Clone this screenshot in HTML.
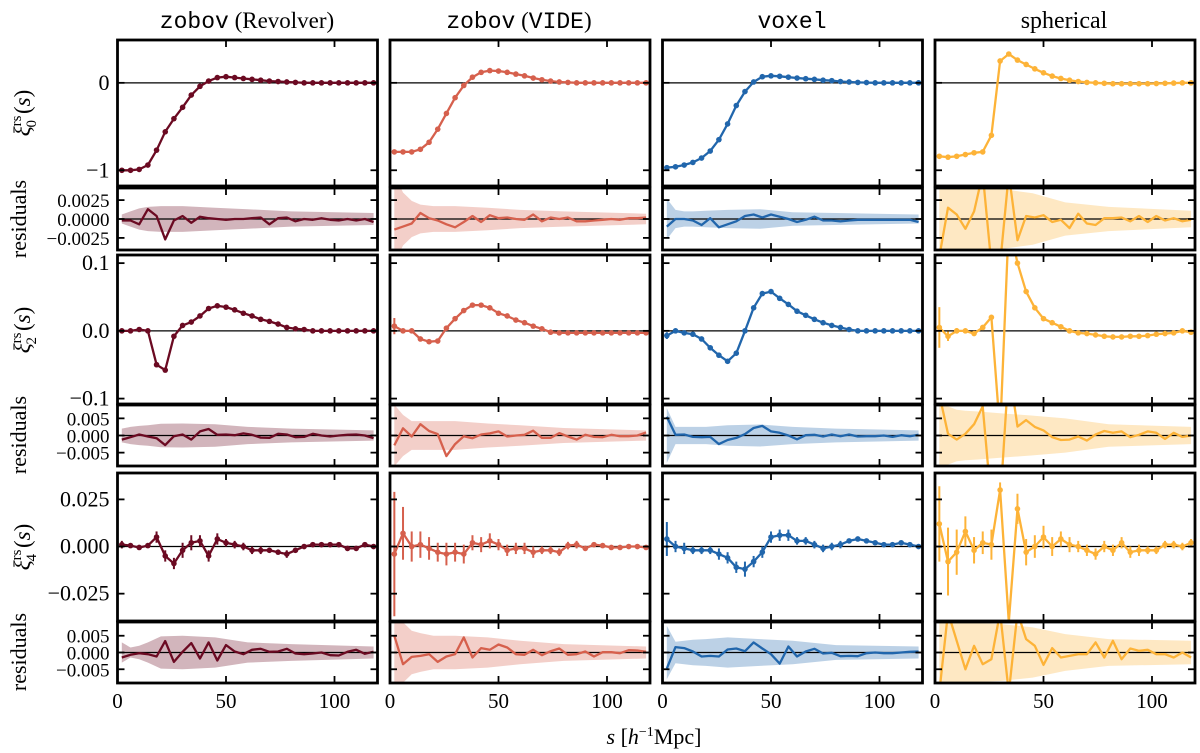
<!DOCTYPE html>
<html><head><meta charset="utf-8">
<style>
html,body{margin:0;padding:0;background:#fff;}
svg{display:block;}
text{font-family:"Liberation Serif",serif;fill:#000;}
.mono{font-family:"Liberation Mono",monospace;}
</style></head>
<body>
<svg id="fig" width="1200" height="753" viewBox="0 0 1200 753" xmlns="http://www.w3.org/2000/svg">
<g>
<text x="247" y="28" font-size="23" text-anchor="middle"><tspan class="mono">zobov</tspan> (Revolver)</text>
<text x="519" y="28" font-size="23" text-anchor="middle"><tspan class="mono">zobov</tspan> (<tspan class="mono">VIDE</tspan>)</text>
<text x="792" y="28" font-size="23" text-anchor="middle" class="mono">voxel</text>
<text x="1064" y="28" font-size="24" text-anchor="middle">spherical</text>
</g>
<g>
<text transform="translate(30,113) rotate(-90)" font-size="23" text-anchor="middle"><tspan font-style="italic">ξ</tspan><tspan font-size="15" dy="-9">rs</tspan><tspan font-size="15" dx="-12" dy="15">0</tspan><tspan dy="-6" dx="6">(</tspan><tspan font-style="italic">s</tspan>)</text>
<text transform="translate(26,219) rotate(-90)" font-size="22" text-anchor="middle">residuals</text>
<text transform="translate(30,330) rotate(-90)" font-size="23" text-anchor="middle"><tspan font-style="italic">ξ</tspan><tspan font-size="15" dy="-9">rs</tspan><tspan font-size="15" dx="-12" dy="15">2</tspan><tspan dy="-6" dx="6">(</tspan><tspan font-style="italic">s</tspan>)</text>
<text transform="translate(26,435) rotate(-90)" font-size="22" text-anchor="middle">residuals</text>
<text transform="translate(30,547) rotate(-90)" font-size="23" text-anchor="middle"><tspan font-style="italic">ξ</tspan><tspan font-size="15" dy="-9">rs</tspan><tspan font-size="15" dx="-12" dy="15">4</tspan><tspan dy="-6" dx="6">(</tspan><tspan font-style="italic">s</tspan>)</text>
<text transform="translate(26,652) rotate(-90)" font-size="22" text-anchor="middle">residuals</text>
</g>
<text x="654" y="744" font-size="22" text-anchor="middle"><tspan font-style="italic">s</tspan> [<tspan font-style="italic">h</tspan><tspan font-size="14" dy="-8">−1</tspan><tspan dy="8">Mpc]</tspan></text>
<g id="plots"></g>
</svg>
<script>
const S = [2,6,10,14,18,22,26,30,34,38,42,46,50,54,58,62,66,70,74,78,82,86,90,94,98,102,106,110,114,118];
const bandS = [2,6,10,14,20,30,45,60,80,118];
const colNames = ['revolver','vide','voxel','spherical'];
const colors = ['#6b0a22','#d6604d','#2166ac','#fdb338'];
const xTicks = [0,50,100];

// monopole
const xi0_revolver = [-1.0,-1.0,-0.99,-0.94,-0.77,-0.56,-0.41,-0.28,-0.14,-0.04,0.02,0.06,0.07,0.06,0.05,0.04,0.03,0.02,0.015,0.01,0.005,0,0,0,0,0,0,0,0,0];
const xi0_vide = [-0.79,-0.79,-0.79,-0.76,-0.68,-0.53,-0.35,-0.17,-0.03,0.065,0.12,0.14,0.135,0.12,0.1,0.08,0.055,0.035,0.02,0.01,0.005,0,0,0,0,0,0,0,0,0];
const xi0_voxel = [-0.97,-0.96,-0.94,-0.91,-0.86,-0.78,-0.65,-0.47,-0.26,-0.1,0.01,0.07,0.08,0.075,0.065,0.055,0.047,0.04,0.03,0.025,0.015,0.01,0.005,0.003,0,0,0,0,0,0];
const xi0_spherical = [-0.84,-0.85,-0.84,-0.82,-0.80,-0.79,-0.60,0.25,0.33,0.26,0.21,0.16,0.115,0.077,0.05,0.03,0.015,0.005,0,-0.005,-0.01,-0.01,-0.01,-0.01,-0.01,-0.008,-0.005,-0.003,0,0];
// quadrupole
const xi2_revolver = [0,0,0.002,0,-0.05,-0.058,-0.008,0.008,0.013,0.022,0.033,0.037,0.035,0.031,0.026,0.022,0.017,0.014,0.01,0.005,0.003,0.002,0,0,0,0,0,0,0,0];
const xi2_vide = [0.007,0,0,-0.012,-0.016,-0.015,0.004,0.018,0.03,0.038,0.038,0.034,0.026,0.022,0.016,0.012,0.007,0.003,-0.002,-0.003,-0.003,-0.003,-0.003,-0.003,-0.003,-0.003,-0.003,-0.003,-0.003,-0.003];
const xi2_voxel = [-0.007,0,-0.003,-0.005,-0.012,-0.025,-0.036,-0.045,-0.033,0,0.034,0.055,0.058,0.048,0.039,0.029,0.023,0.017,0.012,0.008,0.005,0.002,0,0,0,0,0,0,0,0];
const xi2_spherical = [0.005,-0.008,0,0,-0.004,0.005,0.02,-0.15,0.16,0.1,0.058,0.034,0.018,0.012,0.006,0,-0.003,-0.004,-0.006,-0.008,-0.009,-0.009,-0.008,-0.008,-0.007,-0.005,-0.004,-0.003,0,-0.002];
const xi2err_vide = [0.012,0.003,0,0,0,0,0,0,0,0,0,0,0,0,0,0,0,0,0,0,0,0,0,0,0,0,0,0,0,0];
const xi2err_voxel = [0.005,0,0,0,0,0,0,0,0,0,0,0,0,0,0,0,0,0,0,0,0,0,0,0,0,0,0,0,0,0];
const xi2err_spherical = [0.03,0.007,0.004,0.003,0.002,0.002,0,0,0,0,0,0,0,0,0,0,0,0,0,0,0,0,0,0,0,0,0,0,0,0];
const xi2err_revolver = [0,0,0,0,0,0,0,0,0,0,0,0,0,0,0,0,0,0,0,0,0,0,0,0,0,0,0,0,0,0];
// hexadecapole
const xi4_revolver = [0.001,0.0005,-0.0005,0.0005,0.005,-0.005,-0.009,-0.002,0.002,0.003,-0.005,0.004,0.002,0.001,0,-0.002,-0.002,-0.002,-0.003,-0.004,-0.002,0,0.001,0.001,0.001,0.001,-0.001,-0.001,0.001,0];
const xi4err_revolver = [0.002,0.001,0.001,0.001,0.003,0.003,0.003,0.004,0.004,0.003,0.003,0.003,0.002,0.002,0.002,0.002,0.002,0.001,0.001,0.002,0.001,0.001,0.001,0.001,0.001,0.001,0.001,0.001,0.001,0.001];
const xi4_vide = [-0.004,0.007,0,0.001,-0.001,-0.003,-0.004,-0.003,-0.004,0.002,0.001,0.003,0.001,-0.002,-0.001,-0.001,-0.003,-0.002,-0.002,-0.003,0.0005,0.001,-0.001,0.001,0.0005,-0.0005,-0.0005,0,0,-0.0005];
const xi4err_vide = [0.033,0.014,0.008,0.007,0.006,0.005,0.006,0.005,0.005,0.004,0.004,0.004,0.003,0.003,0.003,0.003,0.003,0.002,0.002,0.002,0.002,0.002,0.001,0.001,0.001,0.001,0.001,0.001,0.001,0.001];
const xi4_voxel = [0.004,0,-0.001,-0.002,-0.002,-0.002,-0.004,-0.006,-0.011,-0.012,-0.008,-0.003,0.005,0.006,0.006,0.003,0.003,0.001,-0.001,0,0.001,0.003,0.004,0.003,0.002,0.001,0.001,0.002,0.001,0];
const xi4err_voxel = [0.009,0.003,0.003,0.002,0.002,0.002,0.003,0.003,0.003,0.004,0.003,0.003,0.003,0.003,0.003,0.002,0.002,0.002,0.002,0.002,0.002,0.001,0.001,0.001,0.001,0.001,0.001,0.001,0.001,0.001];
const xi4_spherical = [0.012,-0.008,-0.003,0.008,-0.002,0.002,0.001,0.03,-0.04,0.02,-0.003,0,0.005,0,0.004,0.001,0,-0.002,-0.004,0,-0.002,0.002,-0.003,-0.002,-0.002,-0.002,0.001,0.001,0,0.002];
const xi4err_spherical = [0.02,0.018,0.012,0.008,0.007,0.006,0.008,0.004,0.004,0.008,0.007,0.006,0.006,0.005,0.004,0.004,0.003,0.003,0.003,0.003,0.003,0.003,0.003,0.003,0.002,0.002,0.002,0.002,0.002,0.002];
// residuals
const res0_revolver = [-0.0002,-0.0002,-0.0007,0.0013,0.0004,-0.0027,-0.0002,0.0004,-0.0005,0.0003,0.0001,0,-0.0001,0,0,0.0001,0.0002,-0.0007,0.0001,0.0002,-0.0003,0,-0.0001,0.0001,-0.0001,-0.0002,0,-0.0002,0,-0.0004];
const res0_vide = [-0.0014,-0.001,-0.0006,0.0008,0.0001,-0.0002,-0.0007,-0.0011,-0.0004,0.0004,-0.0004,0.0005,0.0001,0.0002,0,-0.0001,0.0006,-0.0003,0.0002,0,0.0002,-0.0003,-0.0003,-0.0002,-0.0001,0,-0.0001,0.0001,0.0001,0.0002];
const res0_voxel = [-0.001,0,0,-0.0002,-0.0008,0.0001,-0.0011,-0.0007,-0.0003,0.0004,0.0006,0.0002,0.0006,0.0003,0,-0.0004,-0.0001,0.0003,-0.0002,-0.0002,-0.0003,-0.0002,-0.0001,-0.0001,-0.0001,-0.0001,-0.0001,-0.0001,-0.0001,-0.0004];
const res0_spherical = [-0.005,0.0015,0.0006,-0.0013,0.001,0.006,-0.006,-0.006,0.006,-0.0028,0.0004,0.0002,0.0005,-0.0004,-0.0001,-0.0012,0.0007,-0.0006,-0.0008,0.0001,0.0001,0.0002,-0.0003,0.0004,-0.0004,0.0004,-0.0002,0.0001,-0.0003,-0.0001];
const res2_revolver = [-0.0012,-0.0005,0.0003,-0.0003,-0.0008,-0.0028,-0.0002,0.0003,-0.0012,0.0012,0.0019,0.0002,0.0003,0.0001,0.0006,0.0002,-0.0006,-0.0007,0.0005,0.0003,-0.0005,-0.0004,0.0005,0,-0.0003,0,0.0002,0.0003,0,-0.0008];
const res2_vide = [-0.0029,0.0021,-0.0003,0.0033,0.0013,0.0004,-0.006,-0.0025,-0.0002,-0.0008,0.0003,0.0006,0.0012,-0.0003,0,0.0002,0.0014,-0.0007,-0.0007,0.0007,-0.0003,-0.0012,0.0002,-0.0004,-0.0005,0.0002,-0.0002,-0.0002,0,0.0009];
const res2_voxel = [0.0055,0.0002,0.0003,-0.0004,-0.0005,-0.0004,-0.0025,-0.0013,-0.0007,0.0004,0.0022,0.0028,0.0012,0.0008,0,-0.0011,0.0001,0.0002,-0.0003,0.0003,-0.0002,0.0003,-0.0003,-0.0002,-0.0002,0,-0.0004,0.0001,-0.0002,0.0002];
const res2_spherical = [0.012,0.0005,-0.0012,0.0005,0.0033,0.0085,-0.02,-0.02,0.02,0.0026,0.0045,0.0025,0.0015,-0.0005,-0.0013,-0.0012,-0.0003,-0.0015,0.0003,0.0013,0.0008,0.0012,-0.0005,0.0002,0.0012,0.0008,-0.001,0.0008,-0.0004,0];
const res4_revolver = [-0.0015,-0.0007,-0.0002,-0.0005,-0.0012,0.0034,-0.0028,0.0002,0.0028,-0.0018,0.003,-0.0024,0.0022,0.0003,-0.0005,0.0008,0.0011,0.0002,0.0003,0.0011,-0.0003,-0.0005,-0.0003,0,-0.0008,-0.0009,0.0002,0.0008,-0.0004,0.0002];
const res4_vide = [0.005,-0.0035,-0.0013,-0.001,-0.0005,-0.0028,-0.0012,-0.0005,0.0045,-0.0015,0.0013,0.0008,0.0024,0.0015,-0.0005,-0.0007,0.0008,-0.0008,0.0004,0.0012,-0.0007,-0.0005,0.0003,-0.0012,0.0001,0.0001,-0.0002,0.0007,0.0006,0.0002];
const res4_voxel = [-0.0048,0.0016,0.0013,0.0003,-0.0012,-0.001,-0.0012,0.0009,0.0012,0.0004,0.003,0.0012,-0.0005,-0.0033,0.0018,-0.0012,0.0003,0.0011,-0.0003,-0.0001,-0.0011,-0.001,-0.0011,-0.0002,0,-0.0002,-0.0002,0,0.0002,0.0003];
const res4_spherical = [-0.012,0.012,0.0035,-0.005,0.002,-0.0035,-0.002,0.012,-0.012,0.012,0.004,0.002,-0.0037,0.0013,-0.0015,-0.001,-0.0005,-0.0005,0.003,-0.0015,0.0035,-0.002,0.0012,0.0005,0.0008,-0.0005,-0.0005,-0.0015,0,-0.0015];
// residual bands (half-width) at bandS
const band0_revolver = [0.0006,0.001,0.0014,0.0016,0.0017,0.0017,0.0015,0.0013,0.001,0.0008];
const band0_vide = [0.006,0.0035,0.0024,0.0019,0.0017,0.0017,0.0015,0.0012,0.001,0.0007];
const band0_voxel = [0.0027,0.0012,0.001,0.001,0.0011,0.0012,0.0013,0.0009,0.0008,0.0006];
const band0_spherical = [0.005,0.0048,0.0045,0.0043,0.0042,0.004,0.0034,0.0022,0.0016,0.0011];
const band2_revolver = [0.002,0.0025,0.0028,0.003,0.0034,0.0035,0.0033,0.0025,0.002,0.0015];
const band2_vide = [0.009,0.006,0.0042,0.0042,0.0042,0.0042,0.0035,0.003,0.0022,0.0015];
const band2_voxel = [0.008,0.0025,0.0025,0.0025,0.0025,0.003,0.0032,0.0025,0.002,0.0015];
const band2_spherical = [0.009,0.0085,0.0075,0.0072,0.007,0.0065,0.0058,0.005,0.0033,0.0025];
const band4_revolver = [0.003,0.0015,0.002,0.003,0.0048,0.005,0.0045,0.003,0.0025,0.0018];
const band4_vide = [0.009,0.009,0.0065,0.0058,0.005,0.005,0.0045,0.0035,0.0025,0.0018];
const band4_voxel = [0.008,0.0032,0.0035,0.0038,0.004,0.0045,0.004,0.0035,0.0022,0.0018];
const band4_spherical = [0.009,0.009,0.009,0.009,0.0088,0.0085,0.0075,0.0055,0.004,0.0035];

const yTicks0 = [-1,0], yTickLabels0 = ['−1','0'];
const yTicksR0 = [-0.0025,0,0.0025], yTickLabelsR0 = ['−0.0025','0.0000','0.0025'];
const yTicks2 = [-0.1,0,0.1], yTickLabels2 = ['−0.1','0.0','0.1'];
const yTicksR = [-0.005,0,0.005], yTickLabelsR = ['−0.005','0.000','0.005'];
const yTicks4 = [-0.025,0,0.025], yTickLabels4 = ['−0.025','0.000','0.025'];

const main = {0:{revolver:xi0_revolver,vide:xi0_vide,voxel:xi0_voxel,spherical:xi0_spherical},
  2:{revolver:xi2_revolver,vide:xi2_vide,voxel:xi2_voxel,spherical:xi2_spherical},
  4:{revolver:xi4_revolver,vide:xi4_vide,voxel:xi4_voxel,spherical:xi4_spherical}};
const errs = {0:null,2:{revolver:xi2err_revolver,vide:xi2err_vide,voxel:xi2err_voxel,spherical:xi2err_spherical},
  4:{revolver:xi4err_revolver,vide:xi4err_vide,voxel:xi4err_voxel,spherical:xi4err_spherical}};
const resid = {0:{revolver:res0_revolver,vide:res0_vide,voxel:res0_voxel,spherical:res0_spherical},
  2:{revolver:res2_revolver,vide:res2_vide,voxel:res2_voxel,spherical:res2_spherical},
  4:{revolver:res4_revolver,vide:res4_vide,voxel:res4_voxel,spherical:res4_spherical}};
const bands = {0:{revolver:band0_revolver,vide:band0_vide,voxel:band0_voxel,spherical:band0_spherical},
  2:{revolver:band2_revolver,vide:band2_vide,voxel:band2_voxel,spherical:band2_spherical},
  4:{revolver:band4_revolver,vide:band4_vide,voxel:band4_voxel,spherical:band4_spherical}};

const NS='http://www.w3.org/2000/svg';
const root=document.getElementById('plots');
function mk(tag,attrs,parent){const e=document.createElementNS(NS,tag);for(const k in attrs)e.setAttribute(k,attrs[k]);(parent||root).appendChild(e);return e;}

const colX0=[117.5,390,662.5,935], pxU=2.17, pw=260;
const rows=[
 {ell:0,kind:'main',top:40,bot:186,ymin:-1.18,ymax:0.49,ticks:yTicks0,labels:yTickLabels0},
 {ell:0,kind:'res',top:188,bot:250,ymin:-0.0041,ymax:0.0041,ticks:yTicksR0,labels:yTickLabelsR0},
 {ell:2,kind:'main',top:255,bot:404,ymin:-0.108,ymax:0.112,ticks:yTicks2,labels:yTickLabels2},
 {ell:2,kind:'res',top:405,bot:466,ymin:-0.0089,ymax:0.0089,ticks:yTicksR,labels:yTickLabelsR},
 {ell:4,kind:'main',top:473,bot:621,ymin:-0.0395,ymax:0.039,ticks:yTicks4,labels:yTickLabels4},
 {ell:4,kind:'res',top:622,bot:683,ymin:-0.0091,ymax:0.0091,ticks:yTicksR,labels:yTickLabelsR}
];
const defs=mk('defs',{});
rows.forEach((r,ri)=>{
 colNames.forEach((cn,ci)=>{
  const x0=colX0[ci], L=x0, R=x0+pw;
  const xs=s=>x0+s*pxU;
  const ys=v=>r.bot-(v-r.ymin)/(r.ymax-r.ymin)*(r.bot-r.top);
  const cid='clip'+ri+'_'+ci;
  const cp=mk('clipPath',{id:cid},defs);
  mk('rect',{x:L,y:r.top,width:pw,height:r.bot-r.top},cp);
  const g=mk('g',{});
  
  
  const inner=mk('g',{'clip-path':'url(#'+cid+')'},g);
  const col=colors[ci];
  if(r.kind==='res'){
   const b=bands[r.ell][cn];
   let d='';
   bandS.forEach((s,i)=>{d+=(i?'L':'M')+xs(s).toFixed(1)+','+ys(b[i]).toFixed(1);});
   for(let i=bandS.length-1;i>=0;i--){d+='L'+xs(bandS[i]).toFixed(1)+','+ys(-b[i]).toFixed(1);}
   const band=mk('path',{d:d+'Z',fill:col,'fill-opacity':0.3,stroke:'none'},inner);
   
   
  }
  mk('line',{x1:L,x2:R,y1:ys(0),y2:ys(0),stroke:'#000','stroke-width':1.2},inner);
  const vals=r.kind==='main'?main[r.ell][cn]:resid[r.ell][cn];
  const line=mk('polyline',{points:S.map((s,i)=>xs(s).toFixed(1)+','+ys(vals[i]).toFixed(1)).join(' '),fill:'none',stroke:col,'stroke-width':2.3,'stroke-linejoin':'round'},inner);
  
  
  if(r.kind==='main'){
   const er=errs[r.ell]?errs[r.ell][cn]:null;
   S.forEach((s,i)=>{
    if(er&&er[i]>0){
     const eb=mk('line',{x1:xs(s),x2:xs(s),y1:ys(vals[i]-er[i]),y2:ys(vals[i]+er[i]),stroke:col,'stroke-width':2},inner);
     
     
    }
    const c=mk('circle',{cx:xs(s),cy:ys(vals[i]),r:2.8,fill:col},inner);
    
    
   });
  }
  const tk=mk('g',{stroke:'#000','stroke-width':1.8},g);
  xTicks.forEach(t=>{const x=xs(t); if(x>L+1&&x<R-1){mk('line',{x1:x,x2:x,y1:r.top,y2:r.top+7},tk);mk('line',{x1:x,x2:x,y1:r.bot,y2:r.bot-7},tk);}});
  r.ticks.forEach(t=>{const y=ys(t);mk('line',{x1:L,x2:L+7,y1:y,y2:y},tk);mk('line',{x1:R,x2:R-7,y1:y,y2:y},tk);});
  const fr=mk('rect',{x:L,y:r.top,width:pw,height:r.bot-r.top,fill:'none',stroke:'#000','stroke-width':2.8},g);
  
  
  if(ci===0){
   r.ticks.forEach((t,k)=>{
    const tx=mk('text',{x:L-8,y:ys(t)+7,'font-size':r.kind==='main'?22:19,'text-anchor':'end'},g);
    tx.textContent=r.labels[k];
    
    
   });
  }
  if(ri===rows.length-1){
   xTicks.forEach(t=>{
    const tx=mk('text',{x:xs(t),y:r.bot+25,'font-size':21,'text-anchor':'middle'},g);
    tx.textContent=String(t);
    
    
   });
  }
 });
});
</script>
</body></html>
